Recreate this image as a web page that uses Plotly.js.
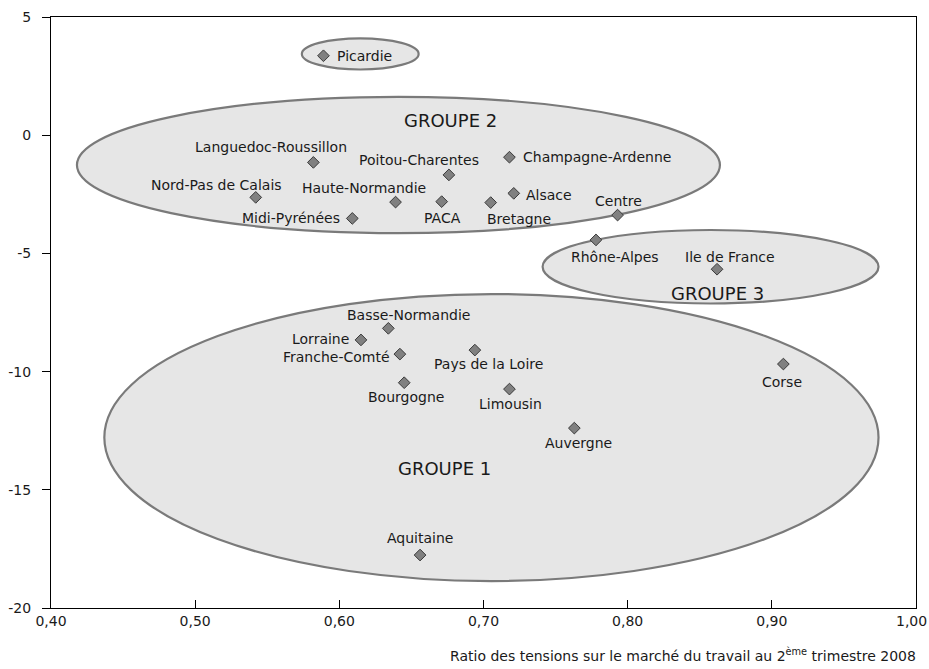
<!DOCTYPE html>
<html>
<head>
<meta charset="utf-8">
<script src="https://cdn.plot.ly/plotly-3.0.1.min.js"></script>
<style>html,body{margin:0;padding:0;background:#fff;}#chart{width:929px;height:669px;}</style>
</head>
<body>
<div id="chart"></div>
<script>
// Data
const regions = ["Picardie","Languedoc-Roussillon","Poitou-Charentes","Champagne-Ardenne","Nord-Pas de Calais","Haute-Normandie","PACA","Alsace","Bretagne","Centre","Midi-Pyrénées","Rhône-Alpes","Ile de France","Basse-Normandie","Lorraine","Franche-Comté","Pays de la Loire","Bourgogne","Limousin","Corse","Auvergne","Aquitaine"];
const ratioTensions = [0.589,0.582,0.676,0.718,0.542,0.639,0.671,0.721,0.705,0.793,0.609,0.778,0.862,0.634,0.615,0.642,0.694,0.645,0.718,0.908,0.763,0.656];
const yValues = [3.36,-1.15,-1.68,-0.93,-2.63,-2.83,-2.81,-2.46,-2.85,-3.38,-3.52,-4.43,-5.67,-8.17,-8.66,-9.26,-9.09,-10.47,-10.74,-9.68,-12.39,-17.76];

const groupNames = ["GROUPE 2","GROUPE 3","GROUPE 1"];
const groupLabelX = [0.677,0.862,0.673];
const groupLabelY = [0.64,-6.68,-14.08];

// Ellipses enclosing groups [x0, x1, y0, y1]
const ellipseX0 = [0.574,0.418,0.741,0.437];
const ellipseX1 = [0.655,0.864,0.974,0.974];
const ellipseY0 = [4.10,1.62,-4.01,-6.72];
const ellipseY1 = [2.78,-4.14,-7.12,-18.86];

const xTickVals = [0.4,0.5,0.6,0.7,0.8,0.9,1.0];
const xTickText = ["0,40","0,50","0,60","0,70","0,80","0,90","1,00"];
const yTickVals = [5,0,-5,-10,-15,-20];
const yTickText = ["5","0","-5","-10","-15","-20"];

// Label placement (anchor, dx px, dy px downward)
const labelPlacement = [
  ["left",12,0],["center",-42,-15],["center",-30,-15],["left",12,0],["center",-39,-12],
  ["center",-32,-14],["center",1,16],["left",10,2],["center",28,16],["center",1,-14],
  ["right",-10,0],["center",19,17],["center",13,-12],["center",20,-13],["right",-10,-1],
  ["right",-8,3],["center",14,14],["center",2,14],["center",1,15],["center",-1,18],
  ["center",4,15],["center",0,-17]
];

const FONT = "DejaVu Sans, Verdana, sans-serif";

const trace = {
  type: "scatter",
  mode: "markers",
  x: ratioTensions,
  y: yValues,
  text: regions,
  hoverinfo: "text",
  marker: {symbol: "diamond", size: 9, color: "#808080", line: {color: "#3a3a3a", width: 1}}
};

const shapes = ellipseX0.map((x0, i) => ({
  type: "circle", xref: "x", yref: "y", layer: "below",
  x0: x0, x1: ellipseX1[i], y0: ellipseY0[i], y1: ellipseY1[i],
  fillcolor: "#e6e6e6", line: {color: "#7a7a7a", width: 2.2}
}));

const annotations = regions.map((r, i) => ({
  x: ratioTensions[i], y: yValues[i], xref: "x", yref: "y",
  text: r, showarrow: false,
  xanchor: labelPlacement[i][0], yanchor: "middle",
  xshift: labelPlacement[i][1], yshift: -labelPlacement[i][2],
  font: {family: FONT, size: 14, color: "#1a1a1a"}
}));

groupNames.forEach((g, i) => annotations.push({
  x: groupLabelX[i], y: groupLabelY[i], xref: "x", yref: "y",
  text: g, showarrow: false, xanchor: "center", yanchor: "middle",
  font: {family: FONT, size: 18, color: "#1a1a1a"}
}));

// last x tick label, kept inside the page edge as in the reference
const lastTick = xTickVals.length - 1;
annotations.push({
  x: xTickVals[lastTick], y: 0, xref: "x", yref: "paper",
  xanchor: "right", yanchor: "top", xshift: 13, yshift: -3,
  text: xTickText[lastTick], showarrow: false,
  font: {family: FONT, size: 14, color: "#1a1a1a"}
});

annotations.push({
  x: 1, y: 0, xref: "paper", yref: "paper", yshift: -47, xshift: 2,
  xanchor: "right", yanchor: "middle", showarrow: false,
  text: "Ratio des tensions sur le marché du travail au 2<sup>ème</sup> trimestre 2008",
  font: {family: FONT, size: 14, color: "#1a1a1a"}
});

const layout = {
  width: 929, height: 669,
  margin: {l: 51, r: 13, t: 17, b: 61},
  paper_bgcolor: "#ffffff", plot_bgcolor: "#ffffff",
  showlegend: false,
  font: {family: FONT, size: 14, color: "#1a1a1a"},
  xaxis: {
    range: [0.4, 1.0], tickvals: xTickVals,
    ticktext: xTickText.map((t, i) => i === lastTick ? "" : t),
    showgrid: false, zeroline: false,
    showline: true, linecolor: "#000", linewidth: 1, mirror: true,
    ticks: "inside", ticklen: 8, tickcolor: "#000", tickwidth: 1,
    tickfont: {family: FONT, size: 14, color: "#1a1a1a"}
  },
  yaxis: {
    range: [-20, 5], tickvals: yTickVals, ticktext: yTickText,
    showgrid: false, zeroline: false,
    showline: true, linecolor: "#000", linewidth: 1, mirror: true,
    ticks: "outside", ticklen: 8, tickcolor: "#000", tickwidth: 1,
    ticklabelstandoff: 8, ticklabeloverflow: "allow",
    tickfont: {family: FONT, size: 14, color: "#1a1a1a"}
  },
  shapes: shapes,
  annotations: annotations
};

Plotly.newPlot("chart", [trace], layout, {displayModeBar: false, staticPlot: true});
</script>
</body>
</html>
